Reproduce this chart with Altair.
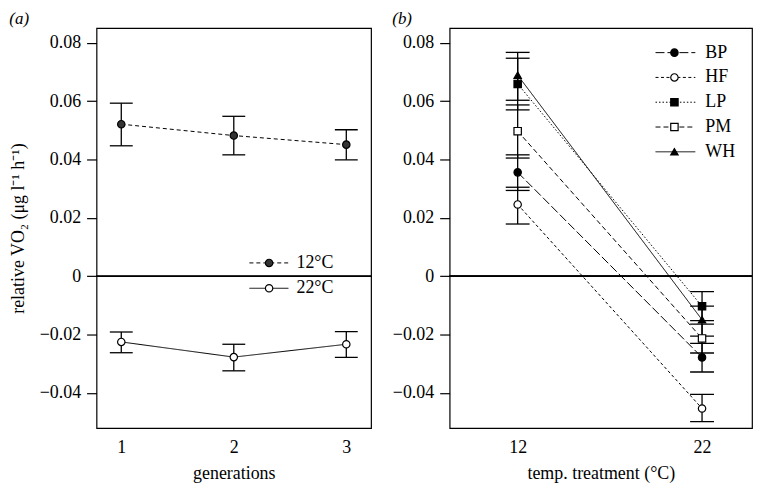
import altair as alt
import pandas as pd

# ---------------- data: panel (a) ----------------
generations = [1, 2, 3]
temp_labels = ["12°C", "22°C"]
c12_mean = [0.0521, 0.0482, 0.0451]
c12_lo = [0.0447, 0.0416, 0.0399]
c12_hi = [0.0593, 0.0548, 0.0502]
c22_mean = [-0.0225, -0.0277, -0.0233]
c22_lo = [-0.0262, -0.0324, -0.0278]
c22_hi = [-0.0191, -0.0233, -0.0190]

# ---------------- data: panel (b) ----------------
temps = [12, 22]
sites = ["BP", "HF", "LP", "PM", "WH"]
site_mean_12 = [0.0356, 0.0246, 0.0659, 0.0497, 0.0689]
site_lo_12 = [0.0294, 0.0179, 0.0570, 0.0405, 0.0603]
site_hi_12 = [0.0416, 0.0305, 0.0747, 0.0587, 0.0767]
site_mean_22 = [-0.0278, -0.0453, -0.0103, -0.0213, -0.0149]
site_lo_22 = [-0.0328, -0.0498, -0.0152, -0.0263, -0.0205]
site_hi_22 = [-0.0230, -0.0405, -0.0053, -0.0164, -0.0102]

y_ticks = [-0.04, -0.02, 0, 0.02, 0.04, 0.06, 0.08]
y_domain = [-0.052, 0.085]

FONT = "Liberation Serif"
H = 402
W_LEFT = 276
W_RIGHT = 304

left_df = pd.DataFrame({
    "generation": generations * 2,
    "temp": [temp_labels[0]] * 3 + [temp_labels[1]] * 3,
    "mean": c12_mean + c22_mean,
    "lo": c12_lo + c22_lo,
    "hi": c12_hi + c22_hi,
})

rows = []
for i, s in enumerate(sites):
    rows.append({"site": s, "temp": temps[0], "mean": site_mean_12[i],
                 "lo": site_lo_12[i], "hi": site_hi_12[i]})
    rows.append({"site": s, "temp": temps[1], "mean": site_mean_22[i],
                 "lo": site_lo_22[i], "hi": site_hi_22[i]})
right_df = pd.DataFrame(rows)

y_scale = alt.Scale(domain=y_domain, nice=False, zero=False)
y_axis = alt.Axis(values=y_ticks, format="~g", title="relative VO₂ (μg l⁻¹ h⁻¹)",
                  titlePadding=12)
y_axis_b = alt.Axis(values=y_ticks, format="~g", title=None)

# ---------------- panel (a) ----------------
xa = alt.X("generation:Q", scale=alt.Scale(domain=[0.78, 3.22], nice=False, zero=False),
           axis=alt.Axis(values=generations, format="d", title="generations", ticks=False,
                         labelPadding=11, titlePadding=8))
dash_a = alt.Scale(domain=temp_labels, range=[[4, 3], [1, 0]])
fill_a = alt.Scale(domain=temp_labels, range=["#333333", "white"])

base_a = alt.Chart(left_df)
zero_a = alt.Chart(left_df).mark_rule(color="black", strokeWidth=1.2).encode(y=alt.datum(0, scale=y_scale))
lines_a = base_a.mark_line(color="black", strokeWidth=1).encode(
    x=xa, y=alt.Y("mean:Q", scale=y_scale, axis=y_axis),
    strokeDash=alt.StrokeDash("temp:N", scale=dash_a, legend=None),
    detail="temp:N")
err_a = base_a.mark_rule(color="black", strokeWidth=1.3).encode(
    x=xa, y=alt.Y("lo:Q", scale=y_scale, axis=y_axis), y2="hi:Q")
caplo_a = base_a.mark_tick(orient="horizontal", size=23, thickness=1.3, color="black", opacity=1).encode(
    x=xa, y=alt.Y("lo:Q", scale=y_scale, axis=y_axis))
caphi_a = base_a.mark_tick(orient="horizontal", size=23, thickness=1.3, color="black", opacity=1).encode(
    x=xa, y=alt.Y("hi:Q", scale=y_scale, axis=y_axis))
pts_a = base_a.mark_point(filled=True, shape="circle", size=55, stroke="black",
                          strokeWidth=1.2, opacity=1).encode(
    x=xa, y=alt.Y("mean:Q", scale=y_scale, axis=y_axis),
    fill=alt.Fill("temp:N", scale=fill_a, legend=None))
data_a = alt.layer(zero_a, lines_a, err_a, caplo_a, caphi_a, pts_a)

leg_a_df = pd.DataFrame({"temp": temp_labels})
ly_a = alt.Y("temp:N", scale=alt.Scale(type="point", domain=temp_labels,
                                       range=[236, 261.5], padding=0), axis=None)
leg_a = alt.Chart(leg_a_df)
leg_line_a = leg_a.mark_rule(color="black", strokeWidth=1).encode(
    y=ly_a, x=alt.value(153.7), x2=alt.value(193),
    strokeDash=alt.StrokeDash("temp:N", scale=dash_a, legend=None))
leg_pt_a = leg_a.mark_point(filled=True, shape="circle", size=55, stroke="black",
                            strokeWidth=1.2, opacity=1).encode(
    y=ly_a, x=alt.value(173.5), fill=alt.Fill("temp:N", scale=fill_a, legend=None))
leg_txt_a = leg_a.mark_text(align="left", baseline="middle", font=FONT, fontSize=18,
                            color="black").encode(y=ly_a, x=alt.value(201), text="temp:N")
legend_a = alt.layer(leg_line_a, leg_pt_a, leg_txt_a)

panel_a = alt.layer(data_a, legend_a).resolve_scale(y="independent").properties(
    width=W_LEFT, height=H,
    title=alt.TitleParams("(a)", anchor="start", frame="bounds", font=FONT, fontSize=17,
                          fontStyle="italic", fontWeight="normal", offset=0, color="black"))

# ---------------- panel (b) ----------------
xb = alt.X("temp:Q", scale=alt.Scale(domain=[8.31, 24.71], nice=False, zero=False),
           axis=alt.Axis(values=temps, format="d", title="temp. treatment (°C)", ticks=False,
                         labelPadding=11, titlePadding=8))
dash_b = alt.Scale(domain=sites, range=[[9, 3], [3, 2.5], [1.5, 2], [5, 3], [1, 0]])
fill_b = alt.Scale(domain=sites, range=["black", "white", "black", "white", "black"])
shape_b = alt.Scale(domain=sites, range=["circle", "circle", "square", "square", "triangle-up"])

base_b = alt.Chart(right_df)
zero_b = alt.Chart(right_df).mark_rule(color="black", strokeWidth=1.2).encode(y=alt.datum(0, scale=y_scale))
lines_b = base_b.mark_line(color="black", strokeWidth=1).encode(
    x=xb, y=alt.Y("mean:Q", scale=y_scale, axis=y_axis_b),
    strokeDash=alt.StrokeDash("site:N", scale=dash_b, legend=None),
    detail="site:N")
err_b = base_b.mark_rule(color="black", strokeWidth=1.3).encode(
    x=xb, y=alt.Y("lo:Q", scale=y_scale, axis=y_axis_b), y2="hi:Q")
caplo_b = base_b.mark_tick(orient="horizontal", size=24, thickness=1.3, color="black", opacity=1).encode(
    x=xb, y=alt.Y("lo:Q", scale=y_scale, axis=y_axis_b))
caphi_b = base_b.mark_tick(orient="horizontal", size=24, thickness=1.3, color="black", opacity=1).encode(
    x=xb, y=alt.Y("hi:Q", scale=y_scale, axis=y_axis_b))
pts_b = base_b.mark_point(filled=True, size=55, stroke="black", strokeWidth=1.2, opacity=1).encode(
    x=xb, y=alt.Y("mean:Q", scale=y_scale, axis=y_axis_b),
    fill=alt.Fill("site:N", scale=fill_b, legend=None),
    shape=alt.Shape("site:N", scale=shape_b, legend=None))
data_b = alt.layer(zero_b, lines_b, err_b, caplo_b, caphi_b, pts_b)

leg_b_df = pd.DataFrame({"site": sites})
ly_b = alt.Y("site:N", scale=alt.Scale(type="point", domain=sites,
                                       range=[24.6, 124.3], padding=0), axis=None)
leg_b = alt.Chart(leg_b_df)
leg_line_b = leg_b.mark_rule(color="black", strokeWidth=1).encode(
    y=ly_b, x=alt.value(207), x2=alt.value(247),
    strokeDash=alt.StrokeDash("site:N", scale=dash_b, legend=None))
leg_pt_b = leg_b.mark_point(filled=True, size=55, stroke="black", strokeWidth=1.2, opacity=1).encode(
    y=ly_b, x=alt.value(226),
    fill=alt.Fill("site:N", scale=fill_b, legend=None),
    shape=alt.Shape("site:N", scale=shape_b, legend=None))
leg_txt_b = leg_b.mark_text(align="left", baseline="middle", font=FONT, fontSize=18,
                            color="black").encode(y=ly_b, x=alt.value(257), text="site:N")
legend_b = alt.layer(leg_line_b, leg_pt_b, leg_txt_b)

panel_b = alt.layer(data_b, legend_b).resolve_scale(y="independent").properties(
    width=W_RIGHT, height=H,
    title=alt.TitleParams("(b)", anchor="start", frame="bounds", font=FONT, fontSize=17,
                          fontStyle="italic", fontWeight="normal", offset=0, color="black"))

chart = alt.hconcat(panel_a, panel_b, spacing=18).resolve_scale(
    strokeDash="independent", fill="independent", shape="independent"
).properties(
    padding={"left": 0, "top": 0, "right": 0, "bottom": 0}
).configure_view(stroke="black", strokeWidth=1.2).configure_axis(
    labelFont=FONT, labelFontSize=18, labelColor="black",
    titleFont=FONT, titleFontSize=18, titleFontWeight="normal", titleColor="black",
    grid=False, domain=False, tickColor="black", tickSize=10, tickWidth=1.2,
    labelPadding=6
)

chart.save("out.html", embed_options={"renderer": "svg", "actions": False})
